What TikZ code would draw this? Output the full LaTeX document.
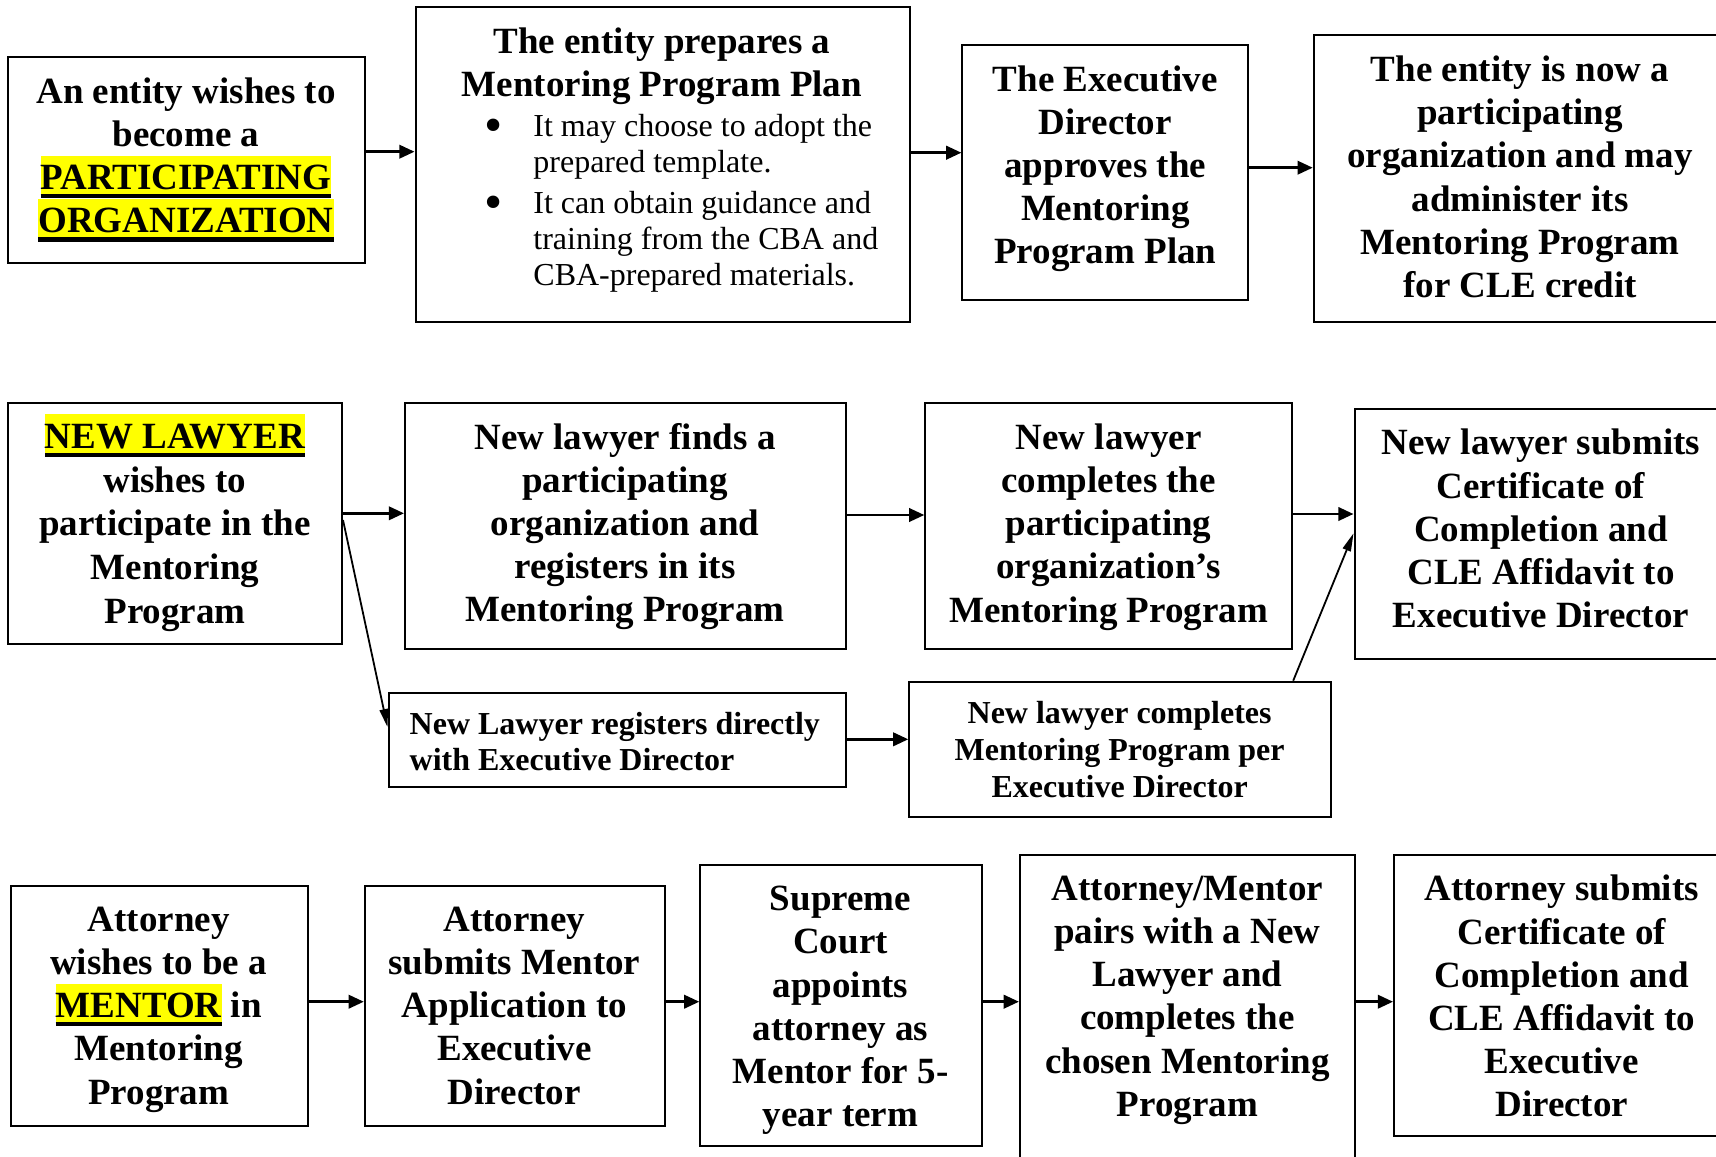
\documentclass[tikz,border=0pt]{standalone}
\usepackage{fontspec}
\setmainfont{Liberation Serif}
\usetikzlibrary{arrows.meta,fit,calc}
\definecolor{hly}{RGB}{255,255,0}
\newcommand\hlu[1]{\begingroup\setbox0\hbox{#1}\rlap{\smash{\color{hly}\rule[-0.23em]{\wd0}{1.15em}}}\rlap{\smash{\rule[-0.235em]{\wd0}{0.11em}}}\box0\endgroup}
\begin{document}
\begin{tikzpicture}[x=0.5pt,y=-0.5pt,
  box/.style={draw, line width=1pt, inner sep=0pt, rectangle},
  bt/.style={font=\fontsize{18.5pt}{21.6pt}\selectfont\bfseries, align=center, inner sep=0pt, execute at begin node=\strut, execute at end node=\strut},
  st/.style={font=\fontsize{16pt}{18pt}\selectfont\bfseries, inner sep=0pt, execute at begin node=\strut, execute at end node=\strut},
  rt/.style={font=\fontsize{16pt}{18pt}\selectfont, align=left, anchor=west, inner sep=0pt, execute at begin node=\strut, execute at end node=\strut},
  bul/.style={font=\fontsize{26pt}{26pt}\selectfont, inner sep=0pt},
  arr/.style={line width=1.3pt, -{Triangle[length=7.6pt,width=6.7pt]}},
  darr/.style={line width=0.9pt, -{Triangle[length=9pt,width=4.2pt]}}]
\useasboundingbox (0,0) rectangle (1716,1156);
\clip (0,0) rectangle (1716,1156);
% ---- Row 1 boxes
\node[box, fit={(7.6,57.3) (365,263.3)}] (A) {};
\node[box, fit={(415.5,7.3) (909.6,321.7)}] (B) {};
\node[box, fit={(962.4,45) (1247.6,300)}] (C) {};
\node[box, fit={(1313.7,35) (1730,321.7)}] (D) {};
% ---- Row 2 boxes
\node[box, fit={(7.6,403.3) (342,644)}] (E) {};
\node[box, fit={(405,403.3) (846.2,649.3)}] (F) {};
\node[box, fit={(925.3,403.3) (1292.1,649.3)}] (I) {};
\node[box, fit={(1354.5,409.3) (1730,659.3)}] (J) {};
\node[box, fit={(388.5,693.3) (846.2,787.3)}] (G) {};
\node[box, fit={(909.3,681.7) (1330.5,817.3)}] (H) {};
% ---- Row 3 boxes
\node[box, fit={(10.8,885.7) (308,1125.7)}] (K) {};
\node[box, fit={(364.8,885.7) (665.2,1125.7)}] (L) {};
\node[box, fit={(700.3,865) (982.1,1146)}] (M) {};
\node[box, fit={(1019.9,855) (1354.6,1175)}] (N) {};
\node[box, fit={(1394,855) (1730,1135.7)}] (O) {};
% ---- Texts row 1
\node[bt] (tA) at (186,161.7) {An entity wishes to\\become a\\\hlu{PARTICIPATING}\\\hlu{ORGANIZATION}};
\node[bt] (tB1) at (662,68.3) {The entity prepares a\\Mentoring Program Plan};
\node[bul] (b1) at (493.6,130.5) {•};
\node[rt] (tB2) at (533,149.2) {It may choose to adopt the\\prepared template.};
\node[bul] (b2) at (493.6,207.5) {•};
\node[rt] (tB3) at (533,243.8) {It can obtain guidance and\\training from the CBA and\\CBA-prepared materials.};
\node[bt] (tC) at (1105.3,171.2) {The Executive\\Director\\approves the\\Mentoring\\Program Plan};
\node[bt] (tD) at (1520,183.2) {The entity is now a\\participating\\organization and may\\administer its\\Mentoring Program\\for CLE credit};
% ---- Texts row 2
\node[bt, font=\fontsize{18.5pt}{21.9pt}\selectfont\bfseries] (tE) at (175,530.2) {\hlu{NEW LAWYER}\\wishes to\\participate in the\\Mentoring\\Program};
\node[bt] (tF) at (625,529) {New lawyer finds a\\participating\\organization and\\registers in its\\Mentoring Program};
\node[bt] (tI) at (1108.6,529.3) {New lawyer\\completes the\\participating\\organization’s\\Mentoring Program};
\node[bt] (tJ) at (1541,535) {New lawyer submits\\Certificate of\\Completion and\\CLE Affidavit to\\Executive Director};
\node[st, align=left, anchor=west] (tG) at (409.3,746.6) {New Lawyer registers directly\\with Executive Director};
\node[st, align=center, font=\fontsize{16pt}{18.6pt}\selectfont\bfseries] (tH) at (1119.6,754.8) {New lawyer completes\\Mentoring Program per\\Executive Director};
% ---- Texts row 3
\node[bt] (tK) at (158.7,1012) {Attorney\\wishes to be a\\\hlu{MENTOR} in\\Mentoring\\Program};
\node[bt] (tL) at (514.4,1012) {Attorney\\submits Mentor\\Application to\\Executive\\Director};
\node[bt] (tM) at (840.5,1013) {Supreme\\Court\\appoints\\attorney as\\Mentor for 5-\\year term};
\node[bt] (tN) at (1187.4,1002.6) {Attorney/Mentor\\pairs with a New\\Lawyer and\\completes the\\chosen Mentoring\\Program};
\node[bt] (tO) at (1561.7,1002.6) {Attorney submits\\Certificate of\\Completion and\\CLE Affidavit to\\Executive\\Director};
% ---- arrow heights
\coordinate (y1) at (0,151.7);
\coordinate (y2) at (0,152.7);
\coordinate (y3) at (0,167.7);
\coordinate (y4) at (0,513.3);
\coordinate (y5) at (0,515);
\coordinate (y6) at (0,514);
\coordinate (y7) at (0,739.3);
\coordinate (y8) at (0,1001.7);
\coordinate (d1s) at (0,520);
\coordinate (d1e) at (0,727);
\coordinate (d2s) at (1293.2,0);
\coordinate (d2e) at (0,533.3);
% ---- connectors
\draw[arr] (A.east |- y1) -- (B.west |- y1);
\draw[arr] (B.east |- y2) -- (C.west |- y2);
\draw[arr] (C.east |- y3) -- (D.west |- y3);
\draw[arr] (E.east |- y4) -- (F.west |- y4);
\draw[arr] (F.east |- y5) -- (I.west |- y5);
\draw[arr] (I.east |- y6) -- (J.west |- y6);
\draw[darr] (E.east |- d1s) -- (G.west |- d1e);
\draw[arr] (G.east |- y7) -- (H.west |- y7);
\draw[darr] (d2s |- H.north) -- (J.west |- d2e);
\draw[arr] (K.east |- y8) -- (L.west |- y8);
\draw[arr] (L.east |- y8) -- (M.west |- y8);
\draw[arr] (M.east |- y8) -- (N.west |- y8);
\draw[arr] (N.east |- y8) -- (O.west |- y8);
\end{tikzpicture}
\end{document}
